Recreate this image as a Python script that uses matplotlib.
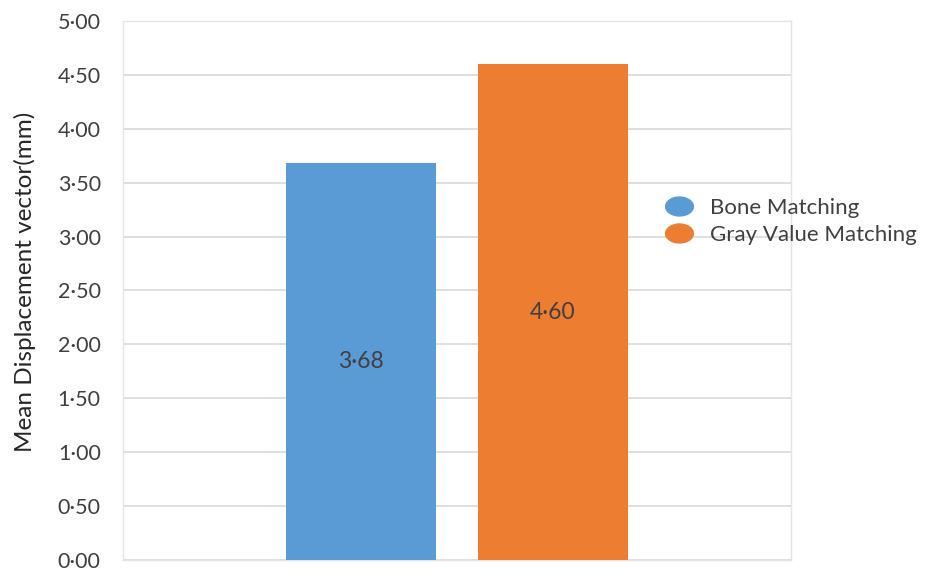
import matplotlib.pyplot as plt
from matplotlib.lines import Line2D
from matplotlib.path import Path
from matplotlib.ticker import FuncFormatter
import numpy as np

methods = ['Bone Matching', 'Gray Value Matching']
mean_disp = [3.68, 4.60]
colors = ['#5B9BD5', '#ED7D31']
yticks = [0, 0.5, 1.0, 1.5, 2.0, 2.5, 3.0, 3.5, 4.0, 4.5, 5.0]

plt.rcParams['font.family'] = ['Lato', 'DejaVu Sans']


def dot_fmt(v):
    # middle dot as decimal separator
    return '{:.2f}'.format(v).replace('.', '\u00b7')


fig = plt.figure(figsize=(9.33, 5.72), dpi=100)
ax = fig.add_axes([0.1318, 0.021, 0.716, 0.9423])

xpos = list(range(len(methods)))
bars = ax.bar(xpos, mean_disp, width=0.783, color=colors, zorder=3)

# value labels in the middle of each bar
for b, v in zip(bars, mean_disp):
    ax.text(b.get_x() + b.get_width() / 2, v / 2, dot_fmt(v),
            ha='center', va='center', fontsize=16.5, color='#404040', zorder=4)

ax.set_xlim(-1.244, 2.244)
ax.set_ylim(0, 5)
ax.set_yticks(yticks)
ax.yaxis.set_major_formatter(FuncFormatter(lambda v, p: dot_fmt(v)))
ax.set_xticks([])
ax.tick_params(axis='y', length=0, pad=16, labelsize=15.5, labelcolor='#404040')
ax.grid(axis='y', color='#D9D9D9', linewidth=1.2, zorder=0)
for s in ax.spines.values():
    s.set_color('#E4E4E4')
    s.set_linewidth(1.0)

ax.set_ylabel('Mean Displacement vector(mm)', fontsize=17.5, color='#262626')
ax.yaxis.set_label_coords(-0.130, 0.516)

# flattened circle for the legend keys
t = np.linspace(0, 2 * np.pi, 60)
oval = Path(np.column_stack([1.47 * np.cos(t), np.sin(t)]))
handles = [Line2D([0], [0], marker=oval, linestyle='none', markersize=20,
                  markerfacecolor=c, markeredgecolor=c) for c in colors]
ax.legend(handles, methods, loc='center left', bbox_to_anchor=(0.796, 0.628),
          frameon=False, fontsize=16, labelcolor='#404040', handlelength=1.4,
          handletextpad=0.7, labelspacing=0.3, borderaxespad=0)

fig.savefig('out.png', dpi=100)
